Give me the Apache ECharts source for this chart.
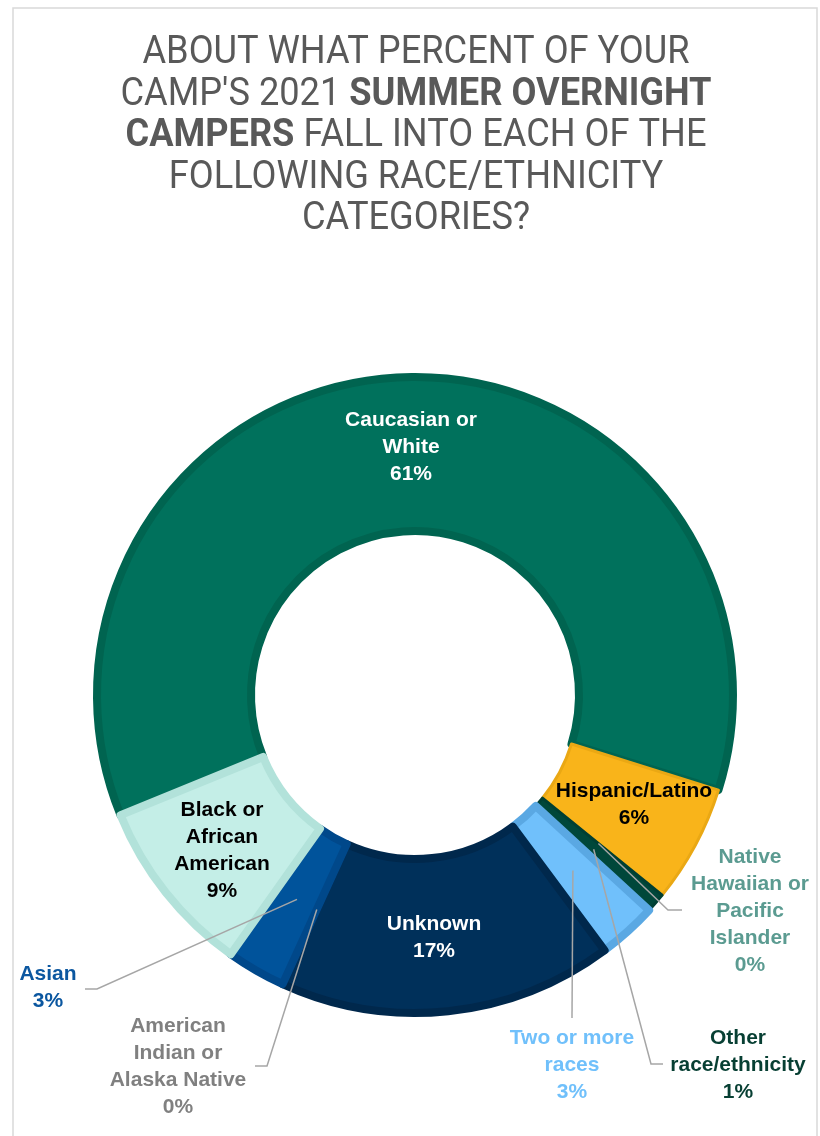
<!DOCTYPE html>
<html><head><meta charset="utf-8">
<script src="https://cdn.jsdelivr.net/npm/echarts@6/dist/echarts.min.js"></script>
<style>html,body{margin:0;padding:0;background:#fff}#c{width:820px;height:1136px}</style>
</head><body><div id="c"></div>
<script>
// ---- data ----
const categories = [
  'Caucasian or\nWhite',
  'Hispanic/Latino',
  'Native\nHawaiian or\nPacific\nIslander',
  'Other\nrace/ethnicity',
  'Two or more\nraces',
  'Unknown',
  'American\nIndian or\nAlaska Native',
  'Asian',
  'Black or\nAfrican\nAmerican'
];
const percents = [61, 6, 0, 1, 3, 17, 0, 3, 9];
const titleLines = [
  'ABOUT WHAT PERCENT OF YOUR',
  'CAMP\'S 2021 {b|SUMMER OVERNIGHT}',
  '{b|CAMPERS} FALL INTO EACH OF THE',
  'FOLLOWING RACE/ETHNICITY',
  'CATEGORIES?'
];

// ---- styles ----
const sliceColors = ['#00715c', '#f9b41a', '#5b9b91', '#00473a', '#70c0fb', '#00305a', '#8c8c8c', '#00539b', '#c4eee7'];
const bandColors  = ['#006450', '#eaa814', '#5b9b91', '#003f33', '#5aa8e3', '#00284c', '#8c8c8c', '#00488a', '#b2e2da'];
const bandWidths  = [8, 3, 0, 3, 8, 8, 2, 8, 8];
const labelColors = ['#ffffff', '#000000', '#5b9b91', '#073f33', '#70c0fb', '#ffffff', '#808080', '#0b57a0', '#000000'];

// ---- label layout (pixel placement of texts and leader lines) ----
const CX = 415, CY = 695, R_IN = 164, R_OUT = 318, R_START = 236;
const labelPlace = [
  {x: 411, y: 447},
  {x: 634, y: 805},
  {x: 750, y: 911, line: [[668, 910], [682, 910]]},
  {x: 738, y: 1065, line: [[651, 1064], [663, 1064]]},
  {x: 572, y: 1065, line: [[572, 1018], [572, 1018]]},
  {x: 434, y: 938},
  {x: 178, y: 1067, line: [[267, 1066], [255, 1066]]},
  {x: 48, y: 988, line: [[97, 989], [85, 989]]},
  {x: 222, y: 851}
];

// title font fitting (condensed look)
const TITLE_FONT = 'Roboto, "Liberation Sans", sans-serif';
const TITLE_SIZE = 38;
const cv = document.createElement('canvas').getContext('2d');
cv.font = TITLE_SIZE + 'px ' + TITLE_FONT;
const titleScaleX = 547 / cv.measureText(titleLines[0]).width;

const labelFont = {
  fontFamily: '"Liberation Sans", Arial, sans-serif',
  fontWeight: 'bold',
  fontSize: 21,
  lineHeight: 27,
  align: 'center'
};

const baseData = categories.map((name, i) => ({
  name: name,
  value: percents[i],
  itemStyle: {color: sliceColors[i], borderColor: bandColors[i], borderWidth: bandWidths[i]},
  label: {show: !labelPlace[i].line, color: labelColors[i]}
}));
const overlayData = categories.map((name, i) => ({
  name: name,
  value: percents[i],
  label: {show: !!labelPlace[i].line, color: labelColors[i]},
  labelLine: {show: !!labelPlace[i].line}
}));

function layoutLabel(p) {
  const L = labelPlace[p.dataIndex];
  const res = {x: L.x, y: L.y, align: 'center', verticalAlign: 'middle'};
  if (L.line && p.labelLinePoints && p.labelLinePoints.length) {
    const p0 = p.labelLinePoints[0];
    const dx = p0[0] - CX, dy = p0[1] - CY;
    const d = Math.sqrt(dx * dx + dy * dy) || 1;
    const start = [CX + dx / d * R_START, CY + dy / d * R_START];
    res.labelLinePoints = [start, L.line[0], L.line[1]];
  }
  return res;
}

const common = {
  type: 'pie',
  center: [CX, CY],
  radius: [R_IN, R_OUT],
  startAngle: 202.2,
  clockwise: true,
  avoidLabelOverlap: false,
  minShowLabelAngle: 0,
  emphasis: {disabled: true},
  labelLayout: layoutLabel
};

const chart = echarts.init(document.getElementById('c'), null, {renderer: 'canvas'});
chart.setOption({
  backgroundColor: '#ffffff',
  animation: false,
  graphic: [{
    type: 'rect', silent: true, z: -1,
    shape: {x: 13, y: 8, width: 804, height: 1200},
    style: {fill: null, stroke: '#d9d9d9', lineWidth: 1.5}
  }, {
    type: 'text', silent: true,
    x: 416, y: 33, scaleX: titleScaleX,
    style: {
      text: titleLines.join('\n'),
      fontFamily: TITLE_FONT,
      fontSize: TITLE_SIZE,
      fontWeight: 'normal',
      lineHeight: 41.5,
      fill: '#595959',
      align: 'center',
      verticalAlign: 'top',
      rich: {
        b: {fontFamily: TITLE_FONT, fontSize: TITLE_SIZE, fontWeight: 'bold', lineHeight: 41.5, fill: '#595959', color: '#595959'}
      }
    }
  }],
  series: [
    Object.assign({}, common, {
      name: 'base',
      z: 2,
      label: Object.assign({show: true, position: 'outside', formatter: '{b}\n{c}%'}, labelFont),
      labelLine: {show: false},
      data: baseData
    }),
    Object.assign({}, common, {
      name: 'leaders',
      z: 5,
      silent: true,
      itemStyle: {color: 'rgba(0,0,0,0)', borderWidth: 0},
      label: Object.assign({show: true, position: 'outside', formatter: '{b}\n{c}%'}, labelFont),
      labelLine: {show: true, length: 10, length2: 10, lineStyle: {color: '#a6a6a6', width: 1.5}},
      data: overlayData
    })
  ]
});
</script>
</body></html>
